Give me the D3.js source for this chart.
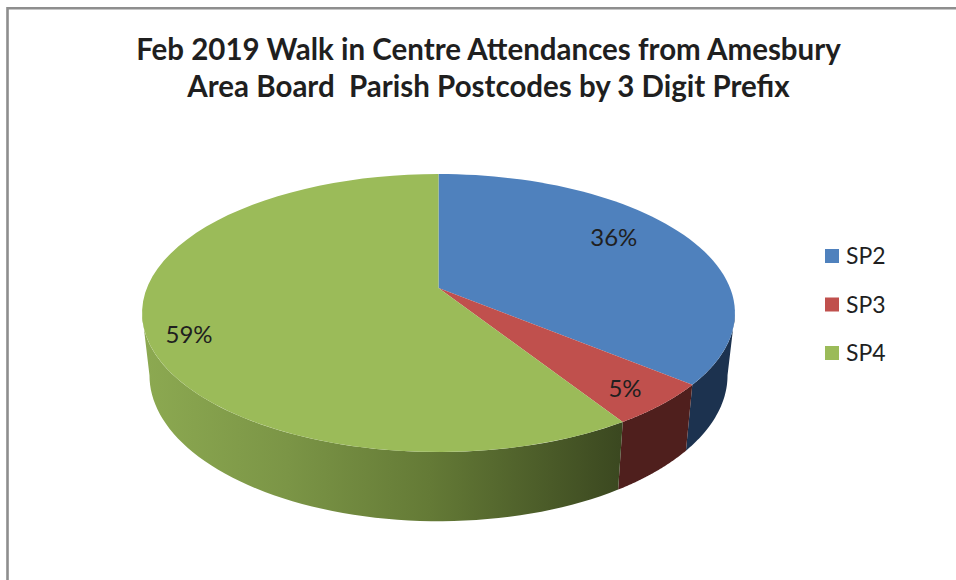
<!DOCTYPE html>
<html>
<head>
<meta charset="utf-8">
<script src="https://d3js.org/d3.v7.min.js"></script>
<style>
  html, body { margin: 0; padding: 0; background: #fff; }
  svg { display: block; }
  text { font-family: Lato, "Open Sans", sans-serif; fill: #1f1f1f; }
</style>
</head>
<body>
<div id="chart"></div>
<script>
// data
const categories = ["SP2", "SP3", "SP4"];
const shares = [36, 5, 59];
const titleLines = ["Feb 2019 Walk in Centre Attendances from Amesbury", "Area Board  Parish Postcodes by 3 Digit Prefix"];

const topColors = ["#4f81bd", "#c0504d", "#9bbb59"];
const wallColors = ["#1c324f", "#4f1f1d", "url(#green-wall)"];

// frame
const FRAME_WIDTH = 956;
const FRAME_HEIGHT = 580;

// pie projection, a tilted disc seen in perspective
const CX = 438.5;
const CY = 288;
const SCALE_X = 291.6;
const SCALE_Y = 134.5;
const PERSPECTIVE = 0.18;

// bottom rim of the pie relative to the top rim
const DROP = 61;
const BOTTOM_X = 0.975;
const BOTTOM_Y = 1.05;

// label spots in pie terms: radius share and angle nudge in degrees
const labelSpots = [{r: 0.76, nudge: -6.8}, {r: 0.865, nudge: 0.7}, {r: 0.868, nudge: -5.6}];

const FRAME = d3.select("#chart")
	.append("svg")
		.attr("width", FRAME_WIDTH)
		.attr("height", FRAME_HEIGHT);

// green wall shading runs dark towards the front right
const grad = FRAME.append("defs")
	.append("linearGradient")
		.attr("id", "green-wall")
		.attr("gradientUnits", "userSpaceOnUse")
		.attr("x1", 145).attr("y1", 0)
		.attr("x2", 620).attr("y2", 0);
grad.append("stop").attr("offset", 0).attr("stop-color", "#8ca951");
grad.append("stop").attr("offset", 0.3).attr("stop-color", "#7b9546");
grad.append("stop").attr("offset", 0.6).attr("stop-color", "#647a36");
grad.append("stop").attr("offset", 1).attr("stop-color", "#3b4820");

// border, only the top and left show in the crop
FRAME.append("path")
	.attr("d", "M7.5," + FRAME_HEIGHT + "V8.2H" + FRAME_WIDTH)
	.attr("fill", "none")
	.attr("stroke", "#8e8e8e")
	.attr("stroke-width", 2.6);

// angle is clockwise from 12 o'clock, r is 1 on the rim
function project(angle, r, drop, scaleX, scaleY) {
	const u = r * Math.sin(angle);
	const v = -r * Math.cos(angle);
	const w = 1 - PERSPECTIVE * v;
	return [CX + scaleX * SCALE_X * u / w, CY + drop + scaleY * SCALE_Y * v / w];
}

function topRim(a0, a1) {
	return d3.range(0, 61).map((i) => project(a0 + (a1 - a0) * i / 60, 1, 0, 1, 1));
}

function bottomRim(a0, a1) {
	return d3.range(0, 61).map((i) => project(a0 + (a1 - a0) * i / 60, 1, DROP, BOTTOM_X, BOTTOM_Y));
}

const pie = d3.pie().sort(null);
const slices = pie(shares);
const line = d3.line();

// walls first, only the part of the rim that faces us (from the widest point round)
const FRONT_START = Math.acos(-PERSPECTIVE);
const FRONT_END = Math.PI * 2 - FRONT_START;

FRAME.append("g")
	.selectAll("path")
	.data(slices.filter((d) => d.endAngle > FRONT_START && d.startAngle < FRONT_END))
	.enter()
	.append("path")
		.attr("d", (d) => {
			const a0 = Math.max(d.startAngle, FRONT_START);
			const a1 = Math.min(d.endAngle, FRONT_END);
			return line(topRim(a0, a1).concat(bottomRim(a1, a0))) + "Z";
		})
		.attr("fill", (d) => wallColors[d.index]);

// top face
FRAME.append("g")
	.selectAll("path")
	.data(slices)
	.enter()
	.append("path")
		.attr("d", (d) => line([[CX, CY]].concat(topRim(d.startAngle, d.endAngle))) + "Z")
		.attr("fill", (d) => topColors[d.index]);

// percent labels
FRAME.append("g")
	.selectAll("text")
	.data(slices)
	.enter()
	.append("text")
		.attr("transform", (d) => {
			const spot = labelSpots[d.index];
			const mid = (d.startAngle + d.endAngle) / 2 + spot.nudge * Math.PI / 180;
			return "translate(" + project(mid, spot.r, 0, 1, 1) + ")";
		})
		.attr("text-anchor", "middle")
		.attr("dy", "0.36em")
		.attr("font-size", 24)
		.text((d) => d.data + "%");

// title
FRAME.append("g")
	.selectAll("text")
	.data(titleLines)
	.enter()
	.append("text")
		.attr("x", 488.5)
		.attr("y", (d, i) => 60 + i * 37)
		.attr("text-anchor", "middle")
		.attr("font-size", 29.5)
		.attr("font-weight", 700)
		.style("white-space", "pre")
		.text((d) => d);

// legend
const legendY = d3.scalePoint()
	.domain(categories)
	.range([256, 353]);

const legend = FRAME.append("g")
	.selectAll("g")
	.data(categories)
	.enter()
	.append("g")
		.attr("transform", (d) => "translate(825," + legendY(d) + ")");

legend.append("rect")
	.attr("y", -7)
	.attr("width", 14)
	.attr("height", 14)
	.attr("fill", (d, i) => topColors[i]);

legend.append("text")
	.attr("x", 21)
	.attr("dy", "0.36em")
	.attr("font-size", 23)
	.text((d) => d);
</script>
</body>
</html>
